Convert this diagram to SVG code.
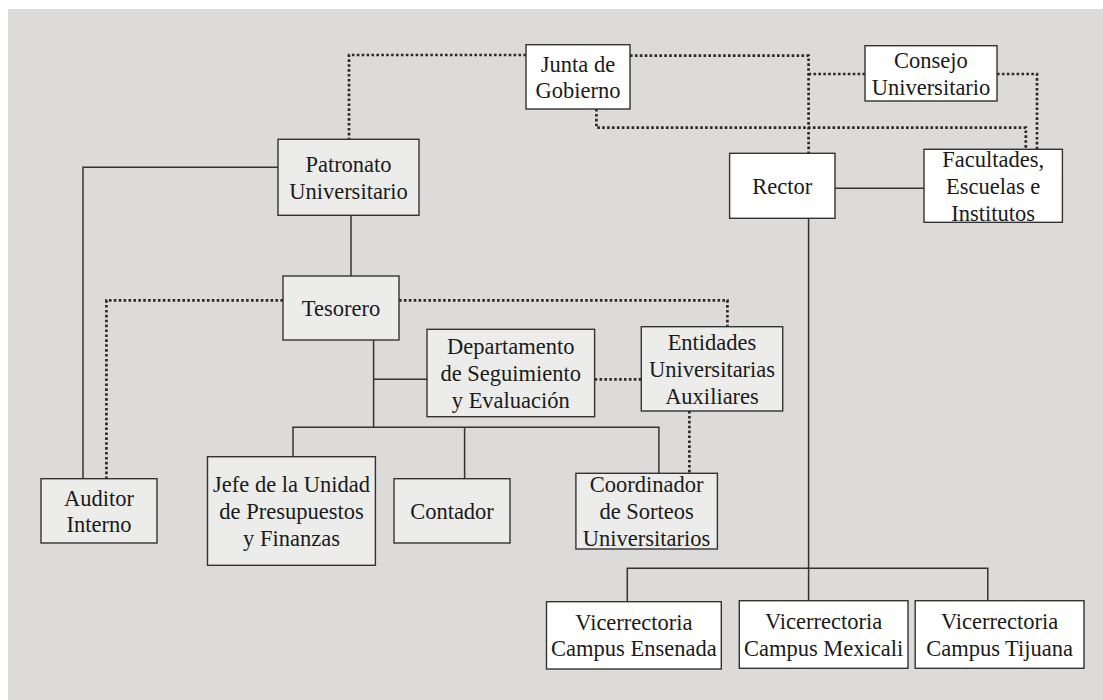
<svg xmlns="http://www.w3.org/2000/svg" width="1103" height="700" viewBox="0 0 1103 700">
<style>
.box{stroke:#333;stroke-width:1.4}
.w{fill:#ffffff}
.g{fill:#ececea}
.t{font-family:"Liberation Serif","Times New Roman",serif;font-size:22.5px;fill:#1a1a1a;text-anchor:middle}
.solid{fill:none;stroke:#333;stroke-width:1.5}
.dot{fill:none;stroke:#2a2a2a;stroke-width:2.7;stroke-dasharray:2.6 2.3}
</style>
<rect x="8" y="9" width="1095" height="691" fill="#dcdbd9"/>
<g id="connectors">
<path class="solid" d="M278 167.3H83V478.7"/>
<path class="solid" d="M351 215.3V276"/>
<path class="solid" d="M373.6 340V427.3"/>
<path class="solid" d="M373.6 379.3H427"/>
<path class="solid" d="M293 456.7V427.3H658.9V473.3"/>
<path class="solid" d="M464.6 427.3V478.7"/>
<path class="solid" d="M835 188.3H924"/>
<path class="solid" d="M808.6 218.3V600.7"/>
<path class="solid" d="M627.3 601.7V568.3H987.8V600.7"/>
<path class="dot" d="M526 55H349V139.3"/>
<path class="dot" d="M630 55.7H808.6V153.3"/>
<path class="dot" d="M808.6 74H865"/>
<path class="dot" d="M997 74H1037V149.3"/>
<path class="dot" d="M596.4 109V127.7H1025.8V149.3"/>
<path class="dot" d="M283 300.3H106.4V478.7"/>
<path class="dot" d="M399 300.3H727.4V326.7"/>
<path class="dot" d="M594.6 379.3H641.3"/>
<path class="dot" d="M689.4 411V473.3"/>
</g>
<g id="junta">
<rect class="box w" x="526" y="44.7" width="104" height="64.3"/>
<text class="t" x="578" y="71.5">Junta de</text>
<text class="t" x="578" y="98.2">Gobierno</text>
</g>
<g id="consejo">
<rect class="box w" x="865" y="45.7" width="132" height="55.3"/>
<text class="t" x="931" y="68">Consejo</text>
<text class="t" x="931" y="94.7">Universitario</text>
</g>
<g id="patronato">
<rect class="box g" x="278" y="139.3" width="141" height="76"/>
<text class="t" x="348.5" y="172">Patronato</text>
<text class="t" x="348.5" y="198.7">Universitario</text>
</g>
<g id="rector">
<rect class="box w" x="729.6" y="153.3" width="105.4" height="65"/>
<text class="t" x="782.3" y="193.8">Rector</text>
</g>
<g id="facultades">
<rect class="box w" x="924" y="149.3" width="138.4" height="73"/>
<text class="t" x="993.2" y="167.1">Facultades,</text>
<text class="t" x="993.2" y="193.8">Escuelas e</text>
<text class="t" x="993.2" y="220.5">Institutos</text>
</g>
<g id="tesorero">
<rect class="box g" x="283" y="276" width="116" height="64"/>
<text class="t" x="341" y="316">Tesorero</text>
</g>
<g id="departamento">
<rect class="box g" x="427" y="329.3" width="167.6" height="87.4"/>
<text class="t" x="510.8" y="354.3">Departamento</text>
<text class="t" x="510.8" y="381">de Seguimiento</text>
<text class="t" x="510.8" y="407.7">y Evaluación</text>
</g>
<g id="entidades">
<rect class="box g" x="641.3" y="326.7" width="141.4" height="84.3"/>
<text class="t" x="712" y="350.2">Entidades</text>
<text class="t" x="712" y="376.9">Universitarias</text>
<text class="t" x="712" y="403.6">Auxiliares</text>
</g>
<g id="auditor">
<rect class="box g" x="41" y="478.7" width="116" height="64.3"/>
<text class="t" x="99" y="505.5">Auditor</text>
<text class="t" x="99" y="532.2">Interno</text>
</g>
<g id="jefe">
<rect class="box g" x="207.5" y="456.7" width="167.9" height="108.6"/>
<text class="t" x="291.5" y="492.3">Jefe de la Unidad</text>
<text class="t" x="291.5" y="519">de Presupuestos</text>
<text class="t" x="291.5" y="545.7">y Finanzas</text>
</g>
<g id="contador">
<rect class="box g" x="394" y="478.7" width="116" height="64.3"/>
<text class="t" x="452" y="518.8">Contador</text>
</g>
<g id="coordinador">
<rect class="box g" x="575.9" y="473.3" width="141.5" height="75.7"/>
<text class="t" x="646.6" y="492.3">Coordinador</text>
<text class="t" x="646.6" y="519">de Sorteos</text>
<text class="t" x="646.6" y="545.7">Universitarios</text>
</g>
<g id="ensenada">
<rect class="box w" x="546.5" y="601.7" width="174.8" height="67.3"/>
<text class="t" x="633.9" y="629.7">Vicerrectoria</text>
<text class="t" x="633.9" y="656.4">Campus Ensenada</text>
</g>
<g id="mexicali">
<rect class="box w" x="739.3" y="600.7" width="168.7" height="67.6"/>
<text class="t" x="823.6" y="629.2">Vicerrectoria</text>
<text class="t" x="823.6" y="655.9">Campus Mexicali</text>
</g>
<g id="tijuana">
<rect class="box w" x="915.2" y="600.7" width="168.8" height="67.6"/>
<text class="t" x="999.6" y="629.2">Vicerrectoria</text>
<text class="t" x="999.6" y="655.9">Campus Tijuana</text>
</g>
</svg>
